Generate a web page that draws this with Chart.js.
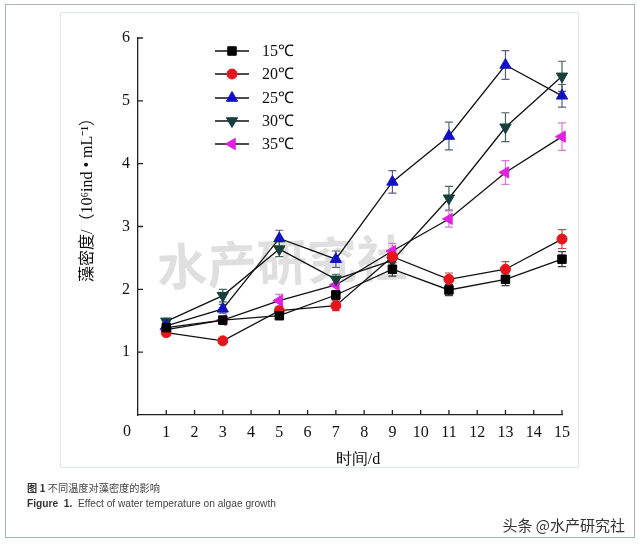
<!DOCTYPE html>
<html>
<head>
<meta charset="utf-8">
<title>不同温度对藻密度的影响</title>
<script src="https://cdn.jsdelivr.net/npm/chart.js"></script>
<style>
    body {
        margin: 0;
        background: #fff;
        font-family: "Liberation Sans", Arial, sans-serif;
    }
    .page {
        position: relative;
        width: 640px;
        height: 546px;
        overflow: hidden;
    }
    .outer {
        position: absolute;
        left: 5px;
        top: 4px;
        width: 628px;
        height: 532px;
        border: 1px solid #a9b2b2;
    }
    .panel {
        position: absolute;
        left: 60px;
        top: 12px;
        width: 517px;
        height: 454px;
        border: 1px solid #e3e8ea;
    }
    canvas {
        position: absolute;
        left: 0;
        top: 0;
    }
    .cap {
        position: absolute;
        left: 27px;
        font-size: 10.2px;
        color: #444;
        white-space: nowrap;
    }
    .cap b {
        color: #333;
    }
    .mark {
        position: absolute;
        right: 15px;
        top: 514px;
        font-family: "Noto Sans CJK SC", sans-serif;
        font-size: 15px;
        color: #333;
    }
</style>
</head>
<body>
<div class="page">
    <div class="outer"></div>
    <div class="panel"></div>
    <canvas id="chart" width="640" height="546"></canvas>
    <div class="cap" style="top:480px;font-family:'Noto Sans CJK SC',sans-serif;"><b>图 1</b>&nbsp;不同温度对藻密度的影响</div>
    <div class="cap" style="top:498px;"><b>Figure&nbsp; 1.</b>&nbsp; Effect of water temperature on algae growth</div>
    <div class="mark">头条 @水产研究社</div>
</div>

<script>
// days of sampling
const days = [1, 3, 5, 7, 9, 11, 13, 15];

// algae density (10^6 ind/mL) per temperature
const t15 = [1.39, 1.51, 1.58, 1.91, 2.32, 1.99, 2.16, 2.48];
const t20 = [1.31, 1.18, 1.66, 1.74, 2.52, 2.16, 2.32, 2.80];
const t25 = [1.42, 1.69, 2.81, 2.48, 3.71, 4.44, 5.57, 5.08];
const t30 = [1.49, 1.90, 2.64, 2.16, 2.46, 3.45, 4.58, 5.39];
const t35 = [1.36, 1.51, 1.82, 2.07, 2.61, 3.12, 3.86, 4.43];

// error bar half heights
const e15 = [0.04, 0.05, 0.06, 0.07, 0.11, 0.09, 0.10, 0.12];
const e20 = [0.05, 0.04, 0.07, 0.08, 0.10, 0.10, 0.12, 0.15];
const e25 = [0.05, 0.07, 0.13, 0.13, 0.18, 0.22, 0.23, 0.18];
const e30 = [0.05, 0.10, 0.12, 0.08, 0.12, 0.19, 0.23, 0.24];
const e35 = [0.05, 0.06, 0.10, 0.10, 0.12, 0.13, 0.19, 0.22];

const labels = ["15℃", "20℃", "25℃", "30℃", "35℃"];
const xTicks = [0, 1, 2, 3, 4, 5, 6, 7, 8, 9, 10, 11, 12, 13, 14, 15];
const yTicks = [0, 1, 2, 3, 4, 5, 6];

const serif = "'Liberation Serif', 'Times New Roman', serif";

function series(label, values, errors, color, barColor, style, radius, rotation) {
    return {
        label: label,
        data: days.map((d, i) => ({ x: d, y: values[i] })),
        errors: errors,
        barColor: barColor,
        borderColor: "#111",
        borderWidth: 1.3,
        pointStyle: style,
        pointRadius: radius,
        pointRotation: rotation,
        pointBackgroundColor: color,
        pointBorderColor: color,
        pointBorderWidth: 1,
        clip: false,
        tension: 0
    };
}

const datasets = [
    series(labels[0], t15, e15, "#000000", "#3a3a3a", "rect", 6, 0),
    series(labels[1], t20, e20, "#e5151c", "#cc4a4a", "circle", 5, 0),
    series(labels[2], t25, e25, "#1212c4", "#58607e", "triangle", 6.5, 0),
    series(labels[3], t30, e30, "#15403c", "#4b5f5d", "triangle", 6.5, 180),
    series(labels[4], t35, e35, "#e021e0", "#d77ad7", "triangle", 6.5, 270)
];

// watermark behind the data
const watermark = {
    id: "watermark",
    beforeDatasetsDraw(chart) {
        const ctx = chart.ctx;
        ctx.save();
        ctx.translate(282, 262);
        ctx.rotate(-0.04);
        ctx.font = "bold 50px 'Noto Sans CJK SC', sans-serif";
        ctx.fillStyle = "rgba(150,150,150,0.3)";
        ctx.textAlign = "center";
        ctx.textBaseline = "middle";
        ctx.fillText("水产研究社", 0, 0);
        ctx.restore();
    }
};

// error bars
const errorBars = {
    id: "errorBars",
    beforeDatasetsDraw(chart) {
        const ctx = chart.ctx;
        const xs = chart.scales.x, ys = chart.scales.y;
        ctx.save();
        ctx.lineWidth = 1.2;
        chart.data.datasets.forEach(ds => {
            ctx.strokeStyle = ds.barColor;
            ds.data.forEach((p, i) => {
                const px = xs.getPixelForValue(p.x);
                const top = ys.getPixelForValue(p.y + ds.errors[i]);
                const bot = ys.getPixelForValue(p.y - ds.errors[i]);
                ctx.beginPath();
                ctx.moveTo(px, top);
                ctx.lineTo(px, bot);
                ctx.moveTo(px - 4, top);
                ctx.lineTo(px + 4, top);
                ctx.moveTo(px - 4, bot);
                ctx.lineTo(px + 4, bot);
                ctx.stroke();
            });
        });
        ctx.restore();
    }
};

// inward ticks, corner zero, axis titles and legend
const decorations = {
    id: "decorations",
    afterDraw(chart) {
        const ctx = chart.ctx;
        const xs = chart.scales.x, ys = chart.scales.y;
        const area = chart.chartArea;
        ctx.save();
        ctx.strokeStyle = "#222";
        ctx.lineWidth = 1.3;
        ctx.beginPath();
        xTicks.filter(v => v > 0).forEach(v => {
            const px = xs.getPixelForValue(v);
            ctx.moveTo(px, area.bottom);
            ctx.lineTo(px, area.bottom - 5);
        });
        yTicks.filter(v => v > 0).forEach(v => {
            const py = ys.getPixelForValue(v);
            ctx.moveTo(area.left, py);
            ctx.lineTo(area.left + 5, py);
        });
        ctx.stroke();

        ctx.fillStyle = "#111";
        ctx.font = "16px " + serif;
        ctx.textAlign = "center";
        ctx.textBaseline = "middle";
        ctx.fillText("0", 127, 432);

        // x title
        ctx.font = "16px " + serif;
        ctx.fillText("时间/d", 358, 460);

        // y title
        ctx.save();
        ctx.translate(88, 196);
        ctx.rotate(-Math.PI / 2);
        ctx.font = "16px " + serif + ", 'Noto Sans CJK SC'";
        ctx.fillText("藻密度/（10⁶ind • mL⁻¹）", 0, 0);
        ctx.restore();

        // legend
        const rows = [51, 74, 98, 121, 144];
        chart.data.datasets.forEach((ds, i) => {
            const y = rows[i];
            ctx.strokeStyle = "#111";
            ctx.lineWidth = 1.3;
            ctx.beginPath();
            ctx.moveTo(215, y);
            ctx.lineTo(249, y);
            ctx.stroke();
            ctx.fillStyle = ds.pointBackgroundColor;
            ctx.strokeStyle = ds.pointBorderColor;
            ctx.lineWidth = 1;
            Chart.helpers.drawPoint(ctx, {
                pointStyle: ds.pointStyle,
                rotation: ds.pointRotation,
                radius: ds.pointRadius,
                borderWidth: 1
            }, 232, y);
            ctx.fillStyle = "#111";
            ctx.textAlign = "left";
            ctx.font = "16px " + serif;
            ctx.fillText(ds.label, 262, y + 1);
        });
        ctx.restore();
    }
};

new Chart(document.getElementById("chart"), {
    type: "line",
    data: { datasets: datasets },
    options: {
        responsive: false,
        animation: false,
        layout: { padding: { left: 0, top: 38, right: 78, bottom: 0 } },
        plugins: {
            legend: { display: false },
            tooltip: { enabled: false }
        },
        scales: {
            x: {
                type: "linear",
                min: 0,
                max: 15,
                afterBuildTicks: axis => { axis.ticks = xTicks.map(v => ({ value: v })); },
                afterFit: axis => { axis.height = 131; },
                grid: { display: false, drawTicks: false },
                border: { color: "#222", width: 1.3 },
                ticks: {
                    padding: 8,
                    autoSkip: false,
                    maxRotation: 0,
                    color: "#111",
                    font: { family: serif, size: 16 },
                    callback: v => (v === 0 ? "" : v)
                }
            },
            y: {
                min: 0,
                max: 6,
                afterBuildTicks: axis => { axis.ticks = yTicks.map(v => ({ value: v })); },
                afterFit: axis => { axis.width = 138; },
                grid: { display: false, drawTicks: false },
                border: { color: "#222", width: 1.3 },
                ticks: {
                    padding: 8,
                    color: "#111",
                    font: { family: serif, size: 16 },
                    callback: v => (v === 0 ? "" : v)
                }
            }
        }
    },
    plugins: [watermark, errorBars, decorations]
});
</script>
</body>
</html>
